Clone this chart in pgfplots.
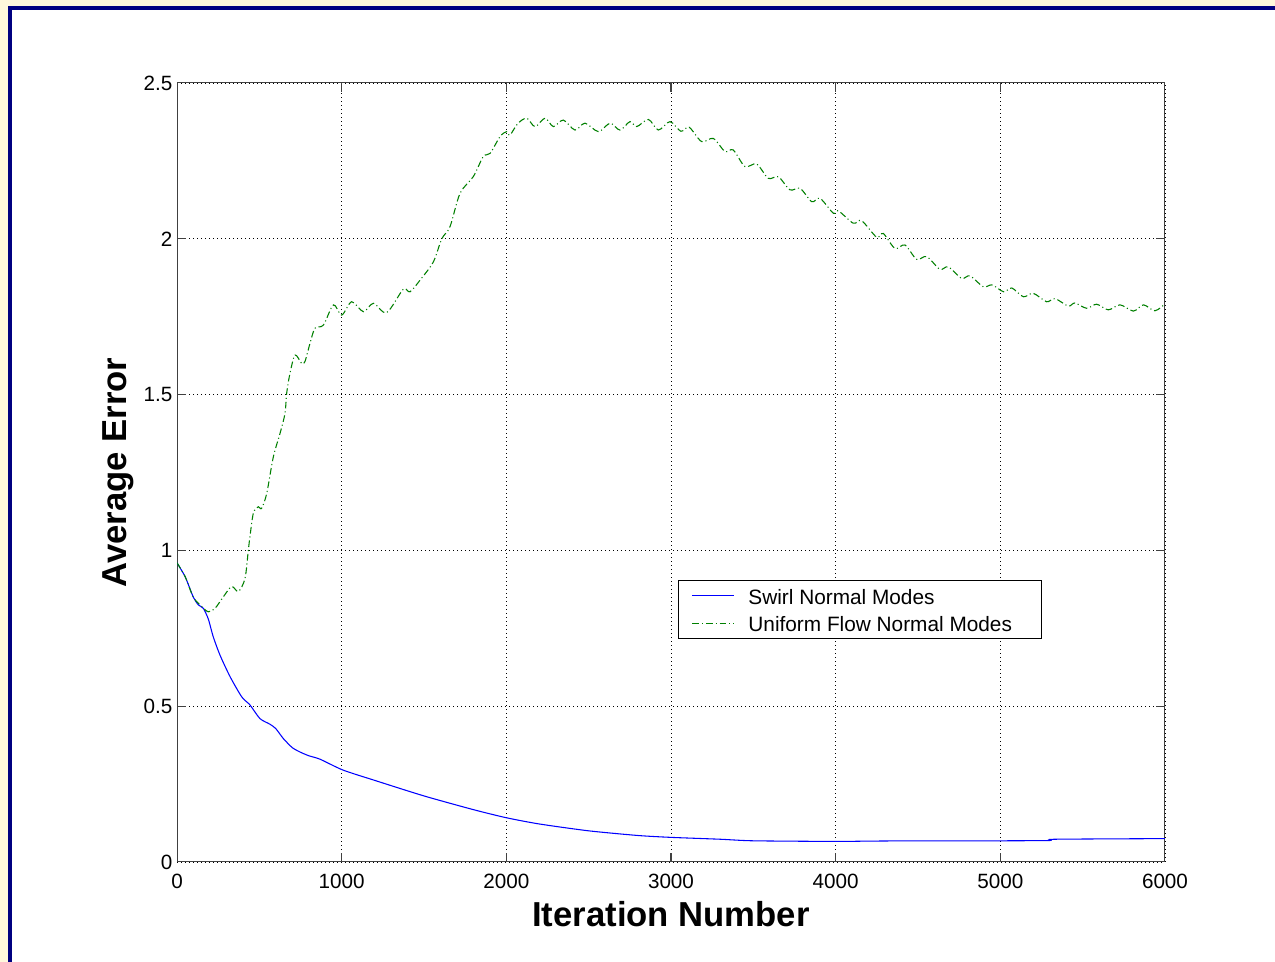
\documentclass[border=0pt]{standalone}
\usepackage{pgfplots}
\pgfplotsset{compat=1.18}
\usepackage{fontspec}
\setmainfont{Liberation Sans}
\definecolor{cream}{HTML}{FFF8DC}
\definecolor{navyb}{HTML}{000080}
\definecolor{mgreen}{rgb}{0,0.5,0}
\begin{document}
\begin{tikzpicture}
\useasboundingbox (0,0) rectangle (956.25pt,721.5pt);
\fill[cream] (0,0) rectangle (956.25pt,721.5pt);
\fill[white] (9pt,0) rectangle (956.25pt,714pt);
\fill[navyb] (6pt,0) rectangle (9pt,717pt);
\fill[navyb] (6pt,714pt) rectangle (956.25pt,717pt);
\begin{axis}[
  at={(132.75pt,75pt)}, anchor=south west,
  scale only axis, width=741pt, height=584.25pt,
  xmin=0, xmax=6000, ymin=0, ymax=2.5,
  xtick={0,1000,...,6000}, ytick={0,0.5,...,2.5},
  xtick pos=both, ytick pos=both,
  xticklabel pos=bottom, yticklabel pos=left,
  tick align=inside, major tick length=7pt,
  tick style={line width=0.75pt, black!75},
  axis line style={line width=0.75pt, black!75},
  grid=major, major grid style={black, line width=0.7pt, dash pattern=on 0.7pt off 2.3pt},
  /pgf/number format/assume math mode=true,
  /pgf/number format/1000 sep={},
  ticklabel style={font=\fontsize{15.5}{18}\selectfont},
  xticklabel style={yshift=-5.5pt},
  xlabel={\bfseries Iteration Number},
  ylabel={\bfseries Average Error},
  xlabel style={font=\fontsize{26}{30}\selectfont, at={(axis description cs:0.5,-0.0834)}, anchor=base},
  ylabel style={font=\fontsize{26}{30}\selectfont, at={(axis description cs:-0.0597,0.5)}, anchor=center},
  legend image code/.code={\draw[#1] (0pt,0pt) -- (31.2pt,0pt);},
  legend style={at={(axis cs:3042,0.905)}, anchor=north west, draw=black, line width=0.8pt,
    fill=white, inner xsep=10pt, inner ysep=1.25pt, row sep=0pt,
    font=\fontsize{15.6}{18}\selectfont,
    nodes={inner xsep=3pt, inner ysep=2.75pt, text height=14pt, text depth=1pt},
    /tikz/every odd column/.append style={column sep=7.5pt}},
  legend cell align=left,
]
\addplot[blue, line width=0.8pt, smooth, tension=0.4] coordinates {
(0,0.96) (50,0.915) (99,0.85) (130,0.825) (160,0.814) (190,0.78) (220,0.723)
(261,0.664) (322,0.595) (393,0.53) (443,0.504) (504,0.460) (565,0.442) (600,0.428)
(646,0.396) (700,0.367) (747,0.353) (800,0.341) (868,0.330) (1008,0.295)
(1200,0.262) (1500,0.212) (1800,0.168) (2000,0.142) (2200,0.122) (2500,0.100)
(2800,0.085) (3000,0.079) (3300,0.073) (3500,0.068) (4000,0.066) (4200,0.067)
(4500,0.068) (5000,0.068) (5300,0.069) (5330,0.073) (6000,0.075)
};
\addlegendentry{Swirl Normal Modes}
\addplot[mgreen, line width=0.8pt, smooth, tension=0.5,
  dash pattern=on 5pt off 2.2pt on 0.8pt off 2.2pt] coordinates {
(0,0.96) (50,0.915) (99,0.85) (150,0.82) (190,0.803) (231,0.814) (280,0.85)
(332,0.884) (373,0.868) (413,0.91) (433,1.0) (443,1.044) (464,1.12) (494,1.14)
(514,1.135) (545,1.183) (585,1.30) (626,1.376) (656,1.44) (666,1.504) (686,1.568)
(717,1.627) (757,1.60) (777,1.606) (808,1.665) (838,1.713) (889,1.723) (950,1.788)
(1000,1.755) (1061,1.798) (1132,1.766) (1193,1.793) (1273,1.763) (1374,1.838)
(1415,1.830) (1480,1.87) (1557,1.926) (1608,2.0) (1658,2.039) (1719,2.146)
(1800,2.2) (1860,2.264) (1901,2.274) (1962,2.328) (2002,2.344) (2022,2.333)
(2070,2.37) (2124,2.387) (2174,2.36) (2235,2.387) (2286,2.36) (2346,2.381)
(2417,2.349) (2478,2.371) (2559,2.344) (2630,2.371) (2690,2.349) (2751,2.376)
(2792,2.36) (2863,2.383) (2923,2.349) (2994,2.376) (3060,2.345) (3110,2.358)
(3186,2.312) (3257,2.322) (3328,2.280) (3378,2.285) (3449,2.232) (3520,2.240)
(3591,2.194) (3652,2.199) (3723,2.157) (3784,2.162) (3855,2.119) (3905,2.13)
(3986,2.082) (4016,2.090) (4107,2.05) (4158,2.058) (4249,2.005) (4289,2.017)
(4360,1.969) (4421,1.98) (4492,1.934) (4553,1.943) (4633,1.902) (4684,1.910)
(4765,1.873) (4816,1.881) (4897,1.846) (4950,1.852) (5020,1.830) (5070,1.842)
(5140,1.814) (5200,1.825) (5281,1.798) (5332,1.808) (5413,1.784) (5453,1.794)
(5524,1.777) (5585,1.79) (5656,1.772) (5727,1.788) (5808,1.768) (5869,1.788)
(5939,1.769) (6000,1.791)
};
\addlegendentry{Uniform Flow Normal Modes\hspace*{9pt}}
\end{axis}
\end{tikzpicture}
\end{document}
